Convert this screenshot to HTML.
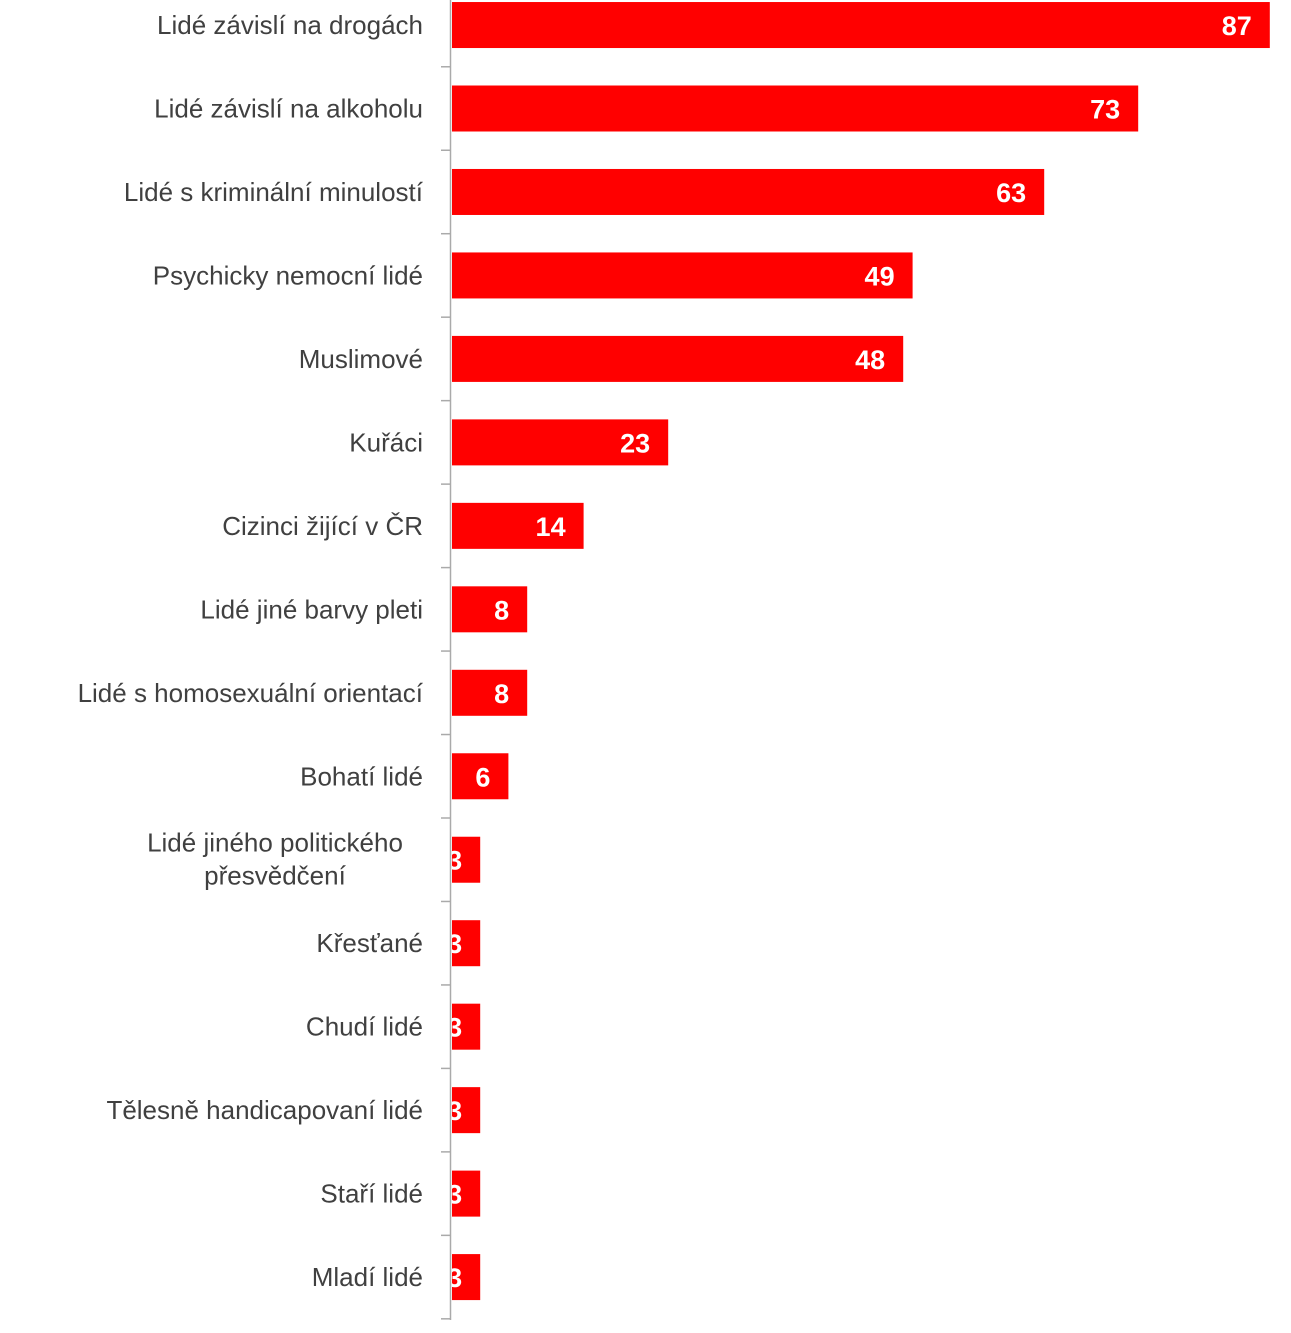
<!DOCTYPE html>
<html><head><meta charset="utf-8"><style>
body{margin:0;background:#fff;}
svg{display:block;font-family:"Liberation Sans",Arial,sans-serif;}
</style></head><body>
<svg id="chart" width="1291" height="1333" viewBox="0 0 1291 1333"></svg>
<script>
const categories=["Lidé závislí na drogách","Lidé závislí na alkoholu","Lidé s kriminální minulostí","Psychicky nemocní lidé","Muslimové","Kuřáci","Cizinci žijící v ČR","Lidé jiné barvy pleti","Lidé s homosexuální orientací","Bohatí lidé","Lidé jiného politického|přesvědčení","Křesťané","Chudí lidé","Tělesně handicapovaní lidé","Staří lidé","Mladí lidé"];
const values=[87,73,63,49,48,23,14,8,8,6,3,3,3,3,3,3];
const NS="http://www.w3.org/2000/svg";
const svg=document.getElementById('chart');
const x0=452, pxPer=9.4, bandTop=-16.7, band=83.47, barH=46, axisX=450.5;
const xs=v=>x0+v*pxPer;
const yc=i=>bandTop+band*(i+0.5);
function mk(t,a){const e=document.createElementNS(NS,t);for(const k in a)e.setAttribute(k,a[k]);svg.appendChild(e);return e;}
const defs=mk('defs',{});
const ax=mk('line',{x1:axisX,x2:axisX,y1:0,y2:1320,stroke:'#aaa','stroke-width':1.5});


for(let i=0;i<=categories.length;i++){
  const y=bandTop+band*i; if(y<0)continue;
  const t=mk('line',{x1:441,x2:axisX,y1:y,y2:y,stroke:'#aaa','stroke-width':1.5});
  
  
}
categories.forEach((c,i)=>{
  const y=yc(i), v=values[i], w=xs(v)-x0;
  const cp=document.createElementNS(NS,'clipPath');cp.setAttribute('id','c'+i);
  const cr=document.createElementNS(NS,'rect');cr.setAttribute('x',x0);cr.setAttribute('y',y-barH/2);cr.setAttribute('width',w);cr.setAttribute('height',barH);
  cp.appendChild(cr);defs.appendChild(cp);
  const r=mk('rect',{x:x0,y:y-barH/2,width:w,height:barH,fill:'#ff0000'});
  
  
  const vl=mk('text',{x:xs(v)-18,y:y+10,'text-anchor':'end','font-size':27,'font-weight':'bold',fill:'#fff','clip-path':'url(#c'+i+')'});
  vl.textContent=v;
  
  
  const parts=c.split('|');
  const tl=mk('text',{'font-size':26,fill:'#404040'});
  
  
  if(parts.length===1){tl.setAttribute('x',423);tl.setAttribute('y',y+9);tl.setAttribute('text-anchor','end');tl.textContent=c;}
  else{tl.setAttribute('text-anchor','middle');
    parts.forEach((p,k)=>{const ts=document.createElementNS(NS,'tspan');ts.setAttribute('x',275);ts.setAttribute('y',y-8+k*33);ts.textContent=p;tl.appendChild(ts);});}
});
</script>
</body></html>
